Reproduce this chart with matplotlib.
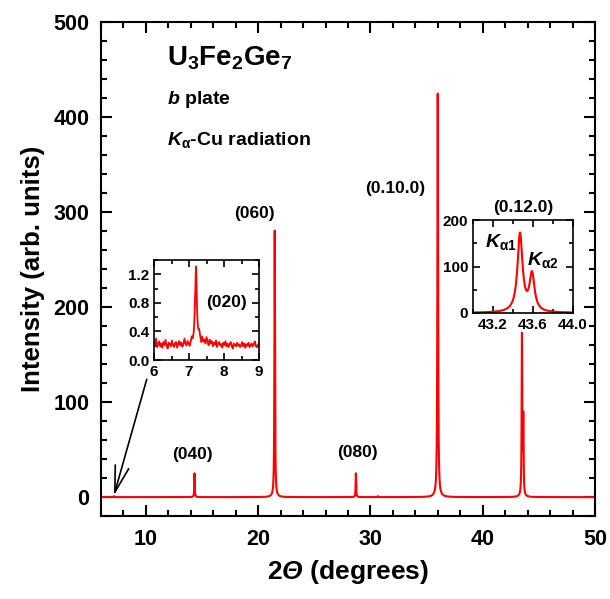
import numpy as np
import matplotlib
matplotlib.use("Agg")
import matplotlib.pyplot as plt
from matplotlib.ticker import MultipleLocator

plt.rcParams['font.family'] = ['Liberation Sans', 'DejaVu Sans']
plt.rcParams['font.weight'] = 'bold'
plt.rcParams['mathtext.fontset'] = 'custom'
plt.rcParams['mathtext.rm'] = 'Liberation Sans:bold'
plt.rcParams['mathtext.it'] = 'Liberation Sans:bold:italic'
plt.rcParams['mathtext.bf'] = 'Liberation Sans:bold'
plt.rcParams['mathtext.sf'] = 'Liberation Sans'
# italic capital Greek (mathtext forces \mathit capitals upright)
plt.rcParams['mathtext.tt'] = 'Liberation Sans:bold:italic'

# Reflections (0k0): position (deg), peak height, half width (deg)
peak_pos = [7.20, 14.35, 21.48, 28.70, 30.65, 35.98, 43.47, 43.59]
peak_height = [1.05, 25.0, 280.0, 25.0, 1.0, 424.0, 168.0, 80.0]
peak_hwhm = [0.03, 0.025, 0.03, 0.025, 0.03, 0.035, 0.03, 0.03]
peak_labels = ['(040)', '(060)', '(080)', '(0.10.0)', '(0.12.0)']
label_x = [14.2, 19.7, 28.8, 32.2]
label_y = [44.5, 298, 47.5, 325]
baseline = 0.2

# Measured background in the low-angle window 6-9 deg (every 0.03 deg)
noise_020 = [0.24, 0.21, 0.30, 0.18, 0.22, 0.26, 0.19, 0.23, 0.17, 0.25,
             0.21, 0.28, 0.20, 0.16, 0.24, 0.22, 0.19, 0.27, 0.21, 0.18,
             0.23, 0.25, 0.17, 0.22, 0.26, 0.20, 0.24, 0.18, 0.21, 0.29,
             0.22, 0.19, 0.25, 0.21, 0.17, 0.23, 0.27, 0.20, 0.22, 0.30,
             0.26, 0.19, 0.24, 0.33, 0.28, 0.21, 0.30, 0.24, 0.27, 0.22,
             0.31, 0.25, 0.20, 0.28, 0.23, 0.26, 0.19, 0.24, 0.21, 0.27,
             0.18, 0.23, 0.25, 0.20, 0.22, 0.17, 0.24, 0.21, 0.26, 0.19,
             0.23, 0.18, 0.22, 0.25, 0.20, 0.16, 0.23, 0.21, 0.19, 0.24,
             0.20, 0.22, 0.18, 0.21, 0.25, 0.19, 0.23, 0.17, 0.22, 0.20,
             0.24, 0.18, 0.21, 0.23, 0.19, 0.22, 0.26, 0.20, 0.18, 0.21, 0.23]


def pattern(x):
    y = np.full_like(x, baseline)
    for p, h, w in zip(peak_pos, peak_height, peak_hwhm):
        y += h * w**2 / ((x - p)**2 + w**2)
    return y


def style_axes(a, lw, major, minor, size):
    a.tick_params(which='both', direction='in', top=True, right=True, width=lw, labelsize=size)
    a.tick_params(which='major', length=major)
    a.tick_params(which='minor', length=minor)
    for s in a.spines.values():
        s.set_linewidth(lw)


fig = plt.figure(figsize=(6.10, 5.99), dpi=100)
ax = fig.add_axes([0.165, 0.138, 0.811, 0.826])

x = np.arange(6.0, 50.0, 0.005)
ax.plot(x, pattern(x), color='red', lw=1.5)

ax.set_xlim(6, 50)
ax.set_ylim(-20, 500)
ax.xaxis.set_major_locator(MultipleLocator(10))
ax.xaxis.set_minor_locator(MultipleLocator(2))
ax.yaxis.set_major_locator(MultipleLocator(100))
ax.yaxis.set_minor_locator(MultipleLocator(20))
style_axes(ax, 1.5, 8, 4.5, 15.5)
ax.tick_params(axis='y', pad=8)
ax.tick_params(axis='x', pad=9)
ax.set_xlabel(r'2$\mathtt{Θ}$ (degrees)', fontsize=19, fontweight='bold', labelpad=6)
ax.set_ylabel('Intensity (arb. units)', fontsize=18.5, fontweight='bold', labelpad=6)

ax.text(0.135, 0.925, r'U$_3$Fe$_2$Ge$_7$', transform=ax.transAxes, fontsize=20, fontweight='bold', va='center')
ax.text(0.135, 0.842, r'$\mathit{b}$ plate', transform=ax.transAxes, fontsize=14, fontweight='bold', va='center')
ax.text(0.135, 0.76, r'$\mathit{K}_{\mathsf{α}}$-Cu radiation', transform=ax.transAxes, fontsize=14, fontweight='bold', va='center')

for lab, lx, ly in zip(peak_labels[:4], label_x, label_y):
    ax.text(lx, ly, lab, fontsize=12.5, fontweight='bold', ha='center', va='center')

ax.annotate('', xy=(7.18, 2), xytext=(10.1, 124),
            arrowprops=dict(arrowstyle='->,head_length=0.95,head_width=0.25',
                            lw=1.2, color='black', mutation_scale=20,
                            shrinkA=0, shrinkB=0))

# low-angle (020) window
ins1 = fig.add_axes([154 / 610, 1 - 360 / 599, 105 / 610, 100 / 599])
xn = np.linspace(6.0, 9.0, len(noise_020))
xs = np.arange(6.0, 9.0, 0.01)
ys = np.interp(xs, xn, noise_020)
for p, h, w in zip(peak_pos[:1], peak_height[:1], peak_hwhm[:1]):
    ys = ys + h * w**2 / ((xs - p)**2 + w**2)
ins1.plot(xs, ys, color='red', lw=1.3)
ins1.set_xlim(6, 9)
ins1.set_ylim(0, 1.4)
ins1.xaxis.set_major_locator(MultipleLocator(1))
ins1.xaxis.set_minor_locator(MultipleLocator(0.5))
ins1.yaxis.set_major_locator(MultipleLocator(0.4))
ins1.yaxis.set_minor_locator(MultipleLocator(0.2))
ins1.yaxis.set_major_formatter(plt.FormatStrFormatter('%.1f'))
style_axes(ins1, 1.2, 5, 3, 11)
ins1.text(8.06, 0.81, '(020)', fontsize=12.5, fontweight='bold', ha='center', va='center')

# (0.12.0) doublet window
ins2 = fig.add_axes([473 / 610, 1 - 313 / 599, 100 / 610, 93 / 599])
xd = np.arange(43.0, 44.0, 0.002)
ins2.plot(xd, pattern(xd), color='red', lw=1.5)
ins2.set_xlim(43.0, 44.0)
ins2.set_ylim(0, 200)
ins2.xaxis.set_major_locator(MultipleLocator(0.4))
ins2.xaxis.set_minor_locator(MultipleLocator(0.2))
ins2.xaxis.set_major_formatter(plt.FormatStrFormatter('%.1f'))
ins2.yaxis.set_major_locator(MultipleLocator(100))
ins2.yaxis.set_minor_locator(MultipleLocator(50))
style_axes(ins2, 1.2, 5, 3, 11)
ins2.text(43.28, 153, r'$\mathit{K}_{\mathsf{α1}}$', fontsize=14, ha='center', va='center')
ins2.text(43.70, 114, r'$\mathit{K}_{\mathsf{α2}}$', fontsize=14, ha='center', va='center')
ins2.set_title(peak_labels[4], fontsize=12.5, fontweight='bold', pad=6)

fig.savefig('out.png', dpi=100)
